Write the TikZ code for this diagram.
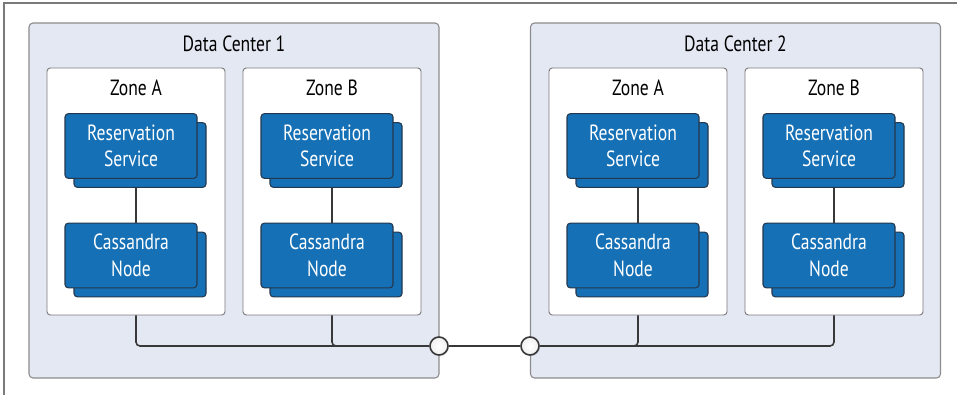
\documentclass[tikz,border=0pt]{standalone}
\usepackage{fontspec}
\setmainfont{PT Sans}[FakeStretch=0.8]
\usetikzlibrary{positioning, shadows}

\definecolor{dcfill}{HTML}{E4E8F3}
\definecolor{dcline}{HTML}{8C8C8C}
\definecolor{zoneline}{HTML}{7A7A7A}
\definecolor{boxblue}{HTML}{1570B6}
\definecolor{boxline}{HTML}{25384D}
\definecolor{linkline}{HTML}{383838}

\newcommand{\zonepair}[3]{%
  % #1 name of the zone, #2 label, #3 left edge of the zone
  \begin{scope}[shift={(#3, 0)}]
    \node[zonebox] (#1) at (89, 191.5) {};
    \node[zonelabel] (#1-label) at (89, 88) {#2};
    \node[svcbox] (#1-rsb) at (93, 155) {};
    \node[svcbox] (#1-rs) at (84, 146) {Reservation\\Service};
    \node[svcbox] (#1-cnb) at (93, 264.5) {};
    \node[svcbox] (#1-cn) at (84, 255.5) {Cassandra\\Node};
    \draw[link] ([xshift=-3pt] #1-rsb.south) -- ([xshift=-3pt] #1-rsb.south |- #1-cn.north);
  \end{scope}
}

\begin{document}
\begin{tikzpicture}[
    x=0.75pt, y=-0.75pt,
    frame/.style={draw=zoneline, line width=1.1pt},
    dcbox/.style={rectangle, draw=dcline, fill=dcfill, rounded corners=3pt, line width=0.8pt,
      minimum width=307.5pt, minimum height=266.25pt},
    dclabel/.style={font=\fontsize{16.5}{19}\selectfont},
    zonebox/.style={rectangle, draw=zoneline, fill=white, rounded corners=2.5pt, line width=0.7pt,
      minimum width=133.5pt, minimum height=185.25pt},
    zonelabel/.style={font=\fontsize{16.5}{19}\selectfont},
    svcbox/.style={rectangle, draw=boxline, fill=boxblue, rounded corners=2.5pt, line width=0.8pt,
      minimum width=99pt, minimum height=48.5pt, inner sep=0pt, align=center, text=white,
      font=\fontsize{16.5}{20}\selectfont},
    link/.style={draw=linkline, line width=1.2pt, rounded corners=3pt},
    joint/.style={circle, draw=linkline, line width=1.2pt, inner color=white, outer color=gray!12,
      minimum size=13.5pt, inner sep=0pt,
      drop shadow={shadow xshift=0.8pt, shadow yshift=-0.8pt, opacity=0.25}}
  ]
  \useasboundingbox (0,0) rectangle (957,395);
  \draw[frame] (4,395) -- (4,3) -- (957,3);

  % the two data centers
  \node[dcbox] (dc1) at (234, 200.5) {};
  \node[dclabel] (dc1-label) at (234, 44) {Data Center 1};
  \node[dcbox] (dc2) at (735.5, 200.5) {};
  \node[dclabel] (dc2-label) at (735.5, 44) {Data Center 2};

  % zones
  \zonepair{z1a}{Zone A}{47}
  \zonepair{z1b}{Zone B}{243}
  \zonepair{z2a}{Zone A}{549}
  \zonepair{z2b}{Zone B}{745}

  % links between the data centers
  \node[joint] (j1) at (439, 346) {};
  \node[joint] (j2) at (530, 346) {};
  \draw[link] (z1a.south) |- (j1);
  \draw[link] (z1b.south) |- (j1);
  \draw[link] (j1) -- (j2);
  \draw[link] (j2) -| (z2a.south);
  \draw[link] (j2) -| (z2b.south);
\end{tikzpicture}
\end{document}
